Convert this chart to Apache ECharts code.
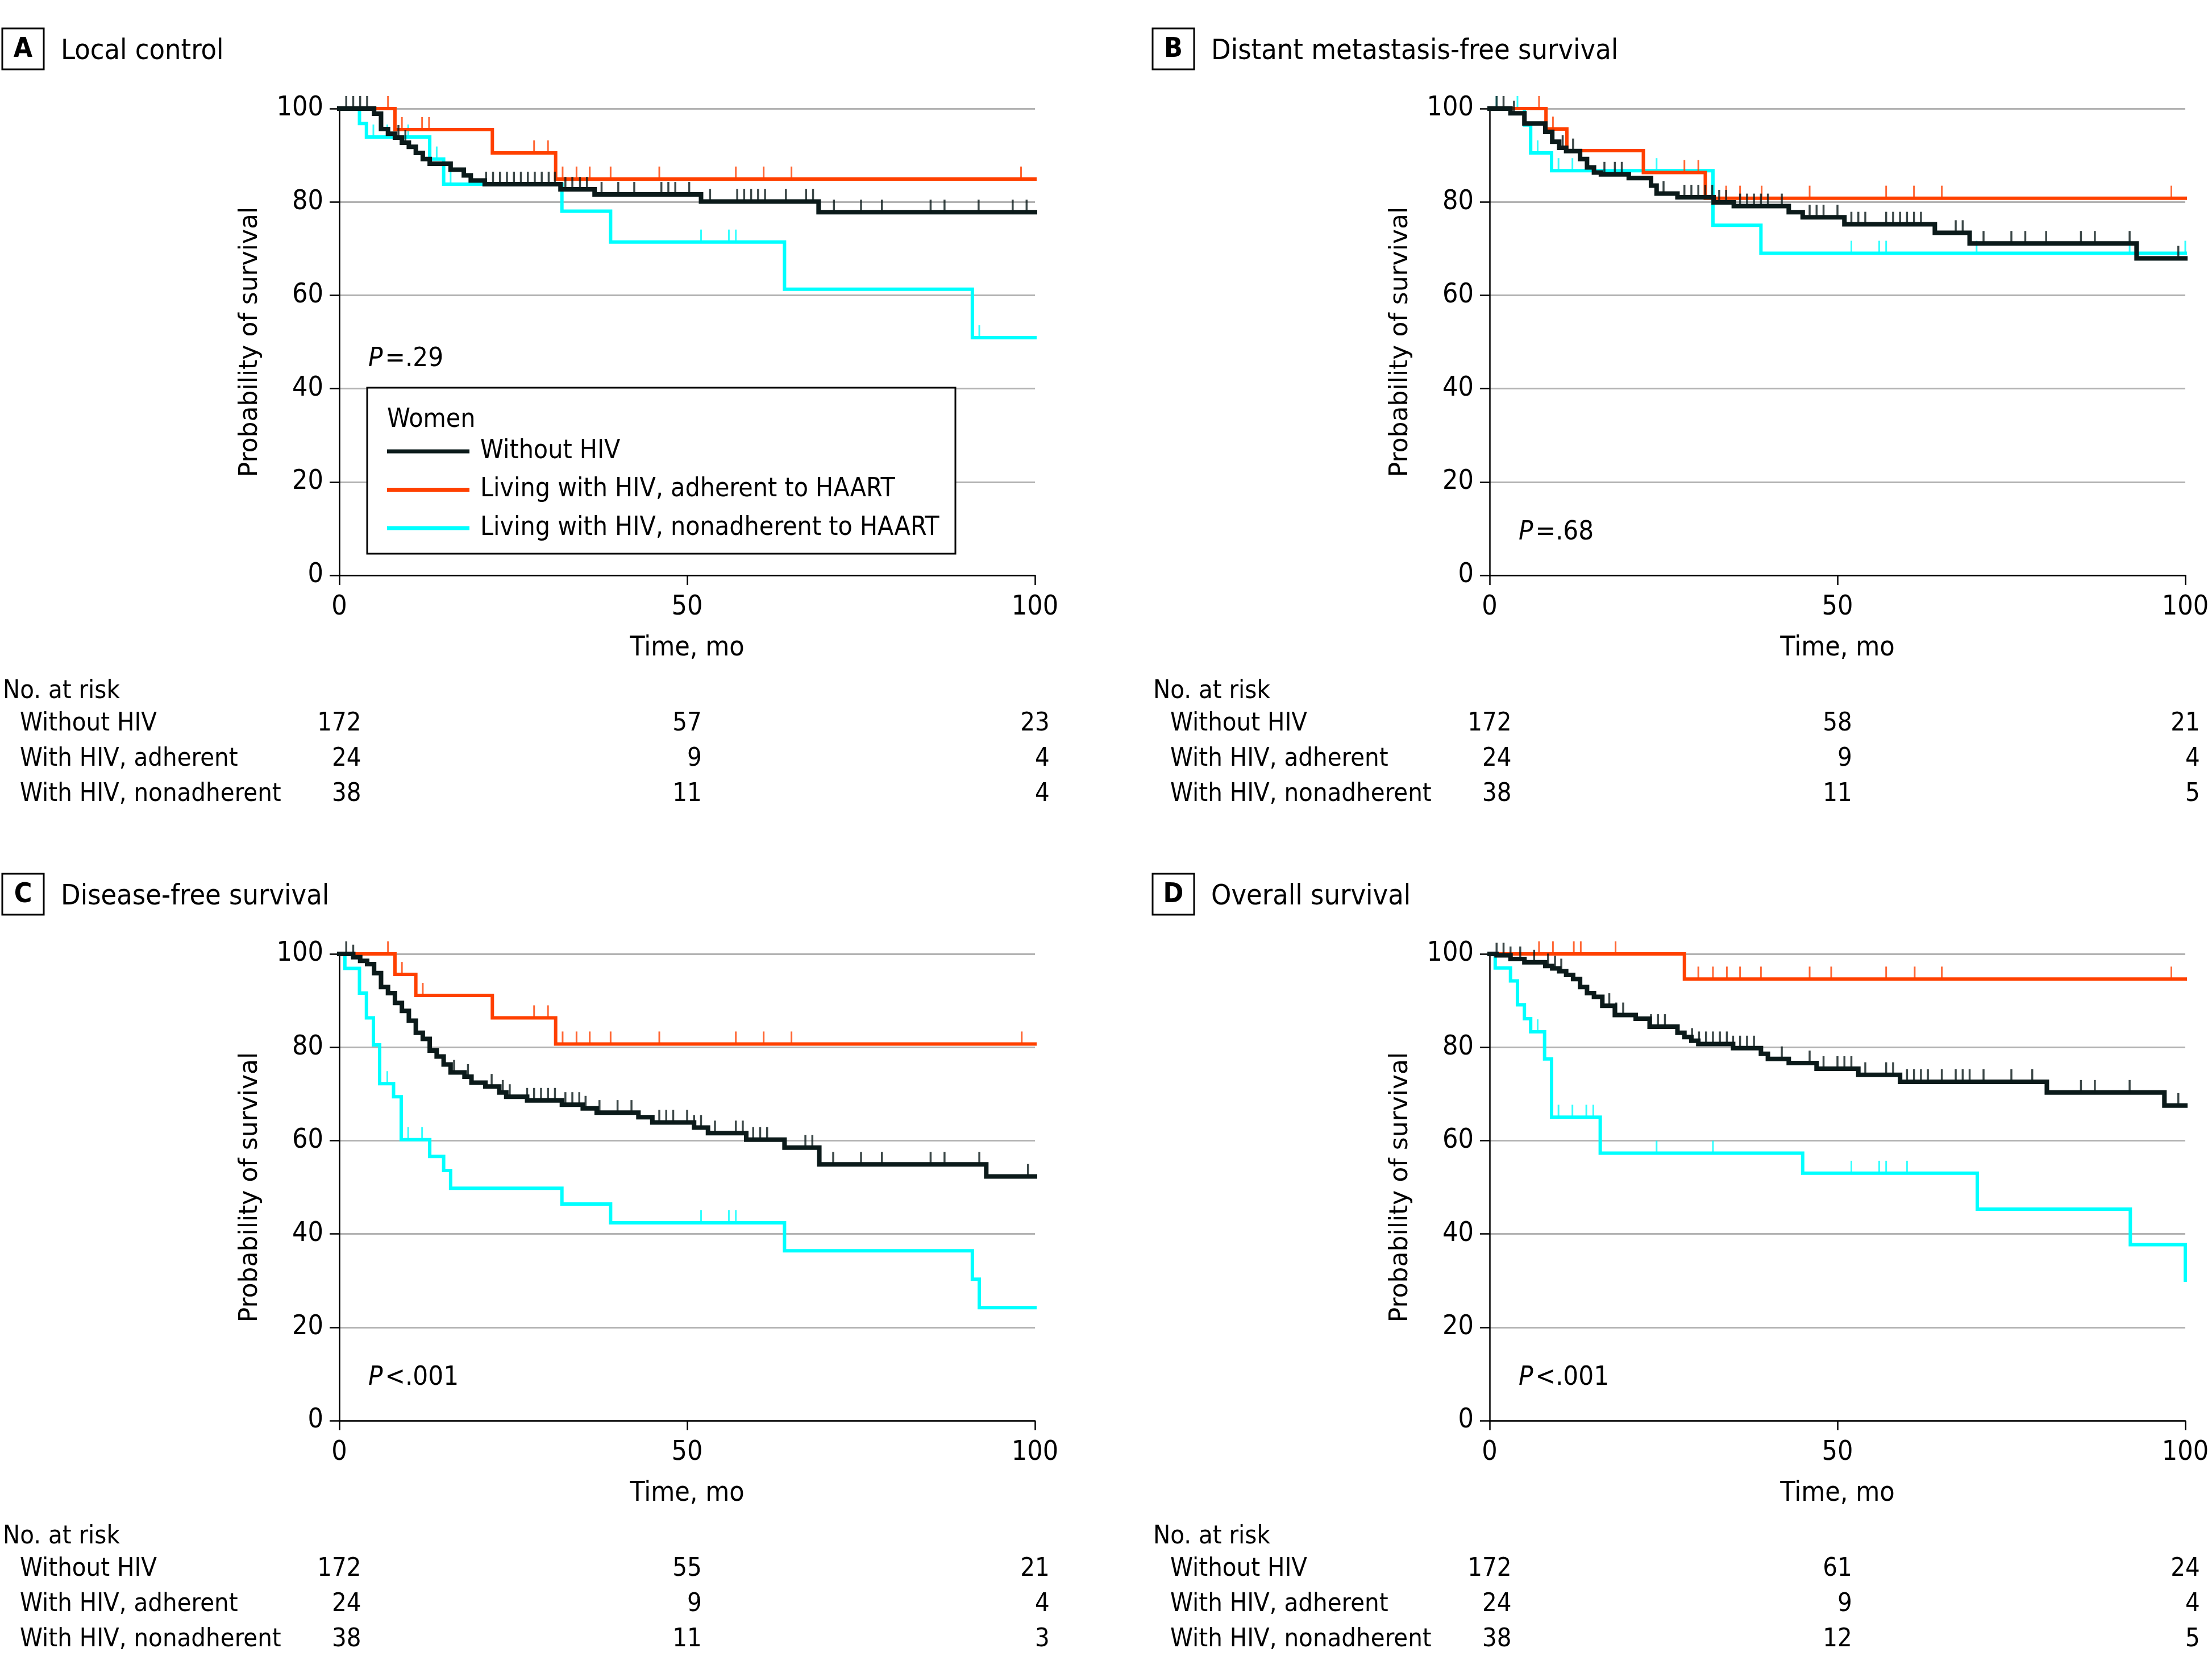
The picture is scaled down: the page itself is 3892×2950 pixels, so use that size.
<!DOCTYPE html>
<html><head><meta charset="utf-8">
<script src="https://cdn.jsdelivr.net/npm/echarts/dist/echarts.min.js"></script>
<style>html,body{margin:0;padding:0;background:#fff}#c{width:3892px;height:2950px}</style>
</head><body><div id="c"></div>
<script>
// ---------------- DATA ----------------
const groups = ['Without HIV', 'Living with HIV, adherent to HAART', 'Living with HIV, nonadherent to HAART'];
const riskLabels = ['Without HIV', 'With HIV, adherent', 'With HIV, nonadherent'];
const panelLetters = ['A', 'B', 'C', 'D'];
const panelTitles = ['Local control', 'Distant metastasis-free survival', 'Disease-free survival', 'Overall survival'];
const pSigns = ['=', '=', '<', '<'];
const pValues = ['.29', '.68', '.001', '.001'];
const monthTicks = [0, 50, 100];
const yTicks = [0, 20, 40, 60, 80, 100];

// Panel A - Local control
const A_without = [[0,100],[5,98.9],[6,95.6],[7,94.6],[8,93.8],[9,92.7],[10,91.8],[11,90.5],[12,89.2],[13,88.2],[16,86.9],[17.9,85.7],[18.9,84.6],[20.9,83.8],[31.8,82.7],[36.7,81.6],[52,80.1],[68.9,77.8],[100,77.8]];
const A_without_cens = [1,2,3,4,8.5,9.5,21.1,22.1,23.1,24.1,25.1,26.1,27.1,28.1,29.1,30.1,31,32.5,33.5,34.6,35.6,37.7,40.1,42.4,46.3,47.3,48.3,50.3,53.3,57.2,58.2,59.2,60.2,61.2,64.2,67.1,68.1,71.1,75,78,85,87,91.9,96.8,98.8];
const A_adherent = [[0,100],[8,95.5],[22,90.5],[31.1,84.9],[100,84.9]];
const A_adherent_cens = [7,9,11.9,12.9,28,30,32.1,34.1,36,39,46,57,61,65,98];
const A_nonadherent = [[0,100],[2.9,96.8],[3.9,93.9],[13,89.2],[15,83.8],[32,78],[39,71.4],[64,61.3],[91,50.9],[100,50.9]];
const A_nonadherent_cens = [4.9,6.9,9.9,14,16,52,56,57,92];

// Panel B - Distant metastasis-free survival
const B_without = [[0,100],[3,99],[5,96.8],[8,95],[9,92.9],[10,91.6],[11,90.9],[13,89.2],[14,87.4],[15,86.3],[16,85.9],[20,85.1],[23.2,83.5],[24,81.8],[27,81],[32.2,79.9],[35.1,79.1],[43,77.8],[45,76.7],[51,75.2],[64,73.4],[69,71.1],[93,67.9],[100,67.9]];
const B_without_cens = [1,2,3.5,10.5,12,16.5,18,19,25,28,29,30,31,32,33,34,36,37,38,39,40,42,46,47,48,50,52,53,54,57,58,59,60,61,62,67,68,71,75,77,80,85,87,92,99];
const B_adherent = [[0,100],[8.1,95.6],[11.1,91],[22.1,86.3],[31,80.8],[100,80.8]];
const B_adherent_cens = [7.1,9.1,28,30,34,36,39.1,46,57,61,65,98];
const B_nonadherent = [[0,100],[5,96.5],[5.9,90.5],[8.9,86.7],[32.1,75],[39,69],[100,69]];
const B_nonadherent_cens = [1,4,6.9,9.9,11.9,24,52,56,57,70,92,100];

// Panel C - Disease-free survival
const C_without = [[0,100],[2,99.3],[3,98.5],[4,97.8],[5,95.9],[6,92.9],[7,91.6],[8,89.5],[9,87.8],[10,85.7],[11,83.1],[12,81.8],[13,79.3],[14,78],[15,76.3],[16,74.6],[18,73.7],[19,72.4],[21,71.6],[23,70.3],[24,69.4],[27,68.6],[32,67.7],[35,66.9],[37,66],[43,65],[45,63.9],[51,62.8],[53,61.6],[58.5,60.2],[64,58.5],[69,54.9],[93,52.3],[100,52.3]];
const C_without_cens = [1,2,16.5,18.5,21.9,23.5,24.5,27,28,29,30,31,32.5,33.5,34.5,35.4,37.4,40,42,46,47,48,50,51,52,54,57,58,59.5,60.5,61.5,67,68,71,75,78,85,87,92,99];
const C_adherent = [[0,100],[8,95.6],[11,91.1],[22,86.3],[31.1,80.7],[100,80.7]];
const C_adherent_cens = [7,9,12,28,30,32.1,34.1,36,39,46,57,61,65,98.1];
const C_nonadherent = [[0,100],[0.8,96.9],[2.9,91.6],[3.9,86.3],[4.9,80.5],[5.8,72.2],[7.8,69.4],[8.9,60.2],[13,56.6],[15,53.6],[16,49.8],[32,46.4],[39,42.4],[64,36.4],[91,30.3],[92,24.2],[100,24.2]];
const C_nonadherent_cens = [6.9,9.9,11.9,52,56,57];

// Panel D - Overall survival
const D_without = [[0,100],[1,99.7],[3,98.9],[5,98.2],[8,97.4],[9,96.9],[10,96.3],[11,95.5],[12,94.6],[13,92.9],[14,91.6],[15,90.8],[16.2,88.9],[18,86.9],[21,86.1],[23,84.4],[27,83.1],[28,82.2],[29,81.4],[30,80.7],[35,79.8],[39,78.6],[40,77.5],[43,76.6],[47,75.4],[53,74.1],[59,72.6],[80.1,70.3],[97,67.5],[100,67.5]];
const D_without_cens = [1,2,3,4.4,6.4,8.4,9.4,10.3,17.2,18.2,19.2,23.2,24.2,25.2,29.1,30.1,31.1,32.1,33.1,34.1,35,36,37,38,42,46,48,50,51,52,54,57,58,60,61,62,63,65,67,68,69,71,75,78,85,87,92,99];
const D_adherent = [[0,100],[28,94.6],[100,94.6]];
const D_adherent_cens = [7.1,9.1,12.1,13.1,18.1,30,32.1,34.1,36,39,46,49.1,57,61.1,65,98];
const D_nonadherent = [[0,100],[0.8,97],[3,94.2],[4,89.1],[5,86.1],[5.9,83.3],[7.9,77.5],[8.9,65],[15.9,57.3],[45,53],[70.1,45.3],[92.1,37.7],[100,30.1]];
const D_nonadherent_cens = [6.9,9.9,11.9,13.9,14.9,24,32.1,52,56,57,60];

// Numbers at risk (rows: without, adherent, nonadherent; columns: months 0, 50, 100)
const A_atRisk = [[172,57,23],[24,9,4],[38,11,4]];
const B_atRisk = [[172,58,21],[24,9,4],[38,11,5]];
const C_atRisk = [[172,55,21],[24,9,4],[38,11,3]];
const D_atRisk = [[172,61,24],[24,9,4],[38,12,5]];

// ---------------- BUILD ----------------
const steps = [[A_without,A_adherent,A_nonadherent],[B_without,B_adherent,B_nonadherent],[C_without,C_adherent,C_nonadherent],[D_without,D_adherent,D_nonadherent]];
const cens = [[A_without_cens,A_adherent_cens,A_nonadherent_cens],[B_without_cens,B_adherent_cens,B_nonadherent_cens],[C_without_cens,C_adherent_cens,C_nonadherent_cens],[D_without_cens,D_adherent_cens,D_nonadherent_cens]];
const atRisk = [A_atRisk, B_atRisk, C_atRisk, D_atRisk];

const FONT = '"DejaVu Sans Condensed","Liberation Sans Narrow","Roboto Condensed","Liberation Sans",sans-serif';
const YFONT = '"DejaVu Sans","Verdana",sans-serif';
const COLORS = ['#0b1a1a', '#ff4000', '#00ffff'];
const LW = [8, 6, 6];
const ZS = [5, 4, 3];

const GL = [597, 2621, 597, 2621];
const GT = [191, 191, 1678, 1678];
const GW = 1224, GH = 821;

function valueAt(st, t) {
  let v = st[0][1];
  for (const p of st) { if (p[0] <= t) v = p[1]; else break; }
  return v;
}

const grid = [], xAxis = [], yAxis = [], series = [];
for (let p = 0; p < 4; p++) {
  grid.push({ left: GL[p], top: GT[p], width: GW, height: GH, containLabel: false });
  xAxis.push({
    type: 'value', gridIndex: p, min: 0, max: 100, interval: 50,
    name: 'Time, mo', nameLocation: 'middle', nameGap: 105,
    nameTextStyle: { fontFamily: FONT, fontSize: 48, color: '#000' },
    axisLine: { show: true, onZero: false, lineStyle: { color: '#000', width: 2.5 } },
    axisTick: { show: true, length: 17, lineStyle: { color: '#000', width: 2.5 } },
    axisLabel: { fontFamily: FONT, fontSize: 48, color: '#000', margin: 33, showMinLabel: true, showMaxLabel: true },
    splitLine: { show: false }
  });
  yAxis.push({
    type: 'value', gridIndex: p, min: 0, max: 100, interval: 20,
    name: 'Probability of survival', nameLocation: 'middle', nameGap: 134, nameRotate: 90,
    nameTextStyle: { fontFamily: YFONT, fontSize: 44, color: '#000' },
    axisLine: { show: true, lineStyle: { color: '#000', width: 2.5 } },
    axisTick: { show: true, length: 17, lineStyle: { color: '#000', width: 2.5 } },
    axisLabel: { fontFamily: FONT, fontSize: 48, color: '#000', margin: 28 },
    splitLine: { show: true, lineStyle: { color: '#b3b3b3', width: 3 } }
  });
  for (const k of [2, 1, 0]) {
    series.push({
      type: 'line', name: groups[k], xAxisIndex: p, yAxisIndex: p,
      data: steps[p][k], step: 'end', symbol: 'none', z: ZS[k],
      lineStyle: { color: COLORS[k], width: LW[k], cap: 'square', join: 'miter' },
      itemStyle: { color: COLORS[k] }, animation: false, silent: true
    });
    series.push({
      type: 'scatter', name: groups[k] + ' censored', xAxisIndex: p, yAxisIndex: p,
      data: cens[p][k].map(t => [t, valueAt(steps[p][k], t)]),
      symbol: 'rect', symbolSize: [k === 0 ? 3.5 : 3, 22], symbolOffset: [0, -11], z: ZS[k],
      itemStyle: { color: COLORS[k] }, animation: false, silent: true
    });
  }
}

const chart = echarts.init(document.getElementById('c'), null, { renderer: 'canvas' });
chart.setOption({
  backgroundColor: '#fff',
  animation: false,
  grid, xAxis, yAxis, series,
  legend: {
    data: groups, orient: 'vertical', left: 681, top: 771,
    itemWidth: 145, itemHeight: 7, itemGap: 21.5, icon: 'rect', padding: 0,
    selectedMode: false, z: 10,
    textStyle: { fontFamily: FONT, fontSize: 46, color: '#000', padding: [0, 0, 0, 14] }
  }
});

// Text and annotations
const g = [];
function txt(x, y, text, opts) {
  return {
    type: 'text', x: x, y: y, silent: true, z: 20,
    style: Object.assign({ text: text, fill: '#000', font: '45px ' + FONT, align: 'left', verticalAlign: 'middle', textAlign: 'left', textVerticalAlign: 'middle' }, opts || {})
  };
}
// legend box + heading
g.push({ type: 'rect', z: 3, silent: true, shape: { x: 646, y: 682, width: 1035, height: 292 }, style: { fill: '#fff', stroke: '#000', lineWidth: 3 } });
g.push(txt(681, 739, 'Women', { font: '46px ' + FONT }));

const digitW = 25.7; // approx width of one digit at 45px
for (let p = 0; p < 4; p++) {
  const L = GL[p], T = GT[p];
  const bx = L - 593, by = T - 141;
  g.push({ type: 'rect', z: 20, silent: true, shape: { x: bx, y: by, width: 73, height: 72 }, style: { fill: '#fff', stroke: '#000', lineWidth: 3 } });
  g.push(txt(bx + 36.5, by + 38, panelLetters[p], { font: 'bold 48px ' + FONT, align: 'center', textAlign: 'center' }));
  g.push(txt(L - 490, T - 100, panelTitles[p], { font: '50px ' + FONT }));
  // P value
  const py = p === 0 ? T + 441 : T + 746;
  g.push({
    type: 'text', x: L + 51, y: py, silent: true, z: 20,
    style: {
      text: '{i|P}{n|' + pSigns[p] + pValues[p] + '}', verticalAlign: 'middle', textVerticalAlign: 'middle',
      rich: { i: { fontFamily: FONT, fontStyle: 'italic', fontSize: 47, fill: '#000', color: '#000', padding: [0, 4, 0, 0] },
              n: { fontFamily: FONT, fontSize: 47, fill: '#000', color: '#000' } }
    }
  });
  // No. at risk table
  g.push(txt(L - 592, T + 1025, 'No. at risk'));
  for (let r = 0; r < 3; r++) {
    const yy = T + 1082 + r * 62;
    g.push(txt(L - 562, yy, riskLabels[r]));
  }
  for (let c = 0; c < 3; c++) {
    const px = chart.convertToPixel({ xAxisIndex: p }, monthTicks[c]);
    const maxDigits = Math.max.apply(null, atRisk[p].map(row => String(row[c]).length));
    const right = px + maxDigits * digitW / 2;
    for (let r = 0; r < 3; r++) {
      const yy = T + 1082 + r * 62;
      g.push(txt(right, yy, String(atRisk[p][r][c]), { align: 'right', textAlign: 'right' }));
    }
  }
}
chart.setOption({ graphic: { elements: g } });
</script></body></html>
